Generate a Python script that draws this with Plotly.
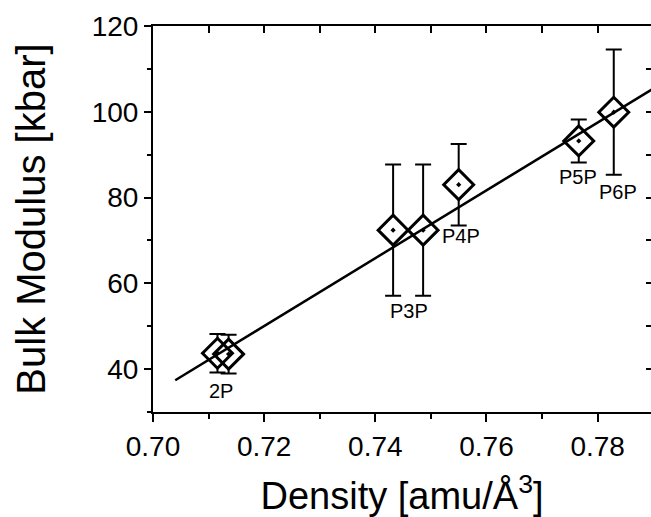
import plotly.graph_objects as go

# Data
density = [0.7116, 0.7136, 0.7432, 0.7486, 0.7550, 0.7766, 0.7829]
bulk_modulus = [43.7, 43.5, 72.4, 72.4, 83.0, 93.2, 99.9]
bulk_err = [4.5, 4.5, 15.3, 15.3, 9.5, 5.0, 14.6]

fit_density = [0.704, 0.790]
fit_bulk = [37.4, 105.4]

label_text = ["2P", "P3P", "P4P", "P5P", "P6P"]
label_x = [0.7123, 0.7461, 0.7554, 0.7765, 0.7837]
label_y = [34.9, 53.6, 71.1, 84.8, 81.2]

x_range = [0.70, 0.7896]
y_range = [30, 120]

FONT = "Liberation Sans, Arial, Helvetica, sans-serif"

fig = go.Figure()

# white-filled diamonds carrying the error bars (bars hidden inside symbols)
fig.add_trace(go.Scatter(
    x=density, y=bulk_modulus, mode="markers",
    marker=dict(symbol="diamond", size=23, color="white",
                line=dict(color="black", width=0)),
    error_y=dict(type="data", array=bulk_err, visible=True,
                 color="black", thickness=2, width=8),
    showlegend=False, hoverinfo="skip",
))
# open diamond outlines with centre dot
fig.add_trace(go.Scatter(
    x=density, y=bulk_modulus, mode="markers",
    marker=dict(symbol="diamond-open-dot", size=23, color="black",
                line=dict(color="black", width=3)),
    showlegend=False,
))
# linear fit
fig.add_trace(go.Scatter(
    x=fit_density, y=fit_bulk, mode="lines",
    line=dict(color="black", width=2.5),
    showlegend=False,
))
# dummy trace so the mirror axes are drawn
fig.add_trace(go.Scatter(x=[0.75], y=[75], xaxis="x2", yaxis="y2",
                         mode="markers", marker=dict(opacity=0),
                         showlegend=False, hoverinfo="skip"))

for t, xx, yy in zip(label_text, label_x, label_y):
    fig.add_annotation(x=xx, y=yy, text=t, showarrow=False,
                       font=dict(family=FONT, size=20, color="black"),
                       xanchor="center", yanchor="middle")

fig.update_layout(
    width=651, height=517,
    margin=dict(l=153, r=0, t=26, b=105),
    paper_bgcolor="white", plot_bgcolor="white",
    font=dict(family=FONT, color="black"),
    xaxis=dict(
        range=x_range, dtick=0.02, tick0=0.70, tickformat=".2f",
        ticks="outside", ticklen=8, tickwidth=2, tickcolor="black",
        showline=True, linewidth=2, linecolor="black", mirror=False,
        showgrid=False, zeroline=False,
        tickfont=dict(family=FONT, size=28, color="black"),
        minor=dict(dtick=0.01, tick0=0.70, ticks="outside", ticklen=5,
                   tickwidth=2, tickcolor="black", showgrid=False),
        title=dict(text="Density [amu/Å<sup>3</sup>]",
                   font=dict(family=FONT, size=38, color="black"),
                   standoff=22),
    ),
    xaxis2=dict(
        overlaying="x", side="top", range=x_range, dtick=0.01, tick0=0.70,
        ticks="inside", ticklen=7, tickwidth=2, tickcolor="black",
        showticklabels=False, showline=True, linewidth=2, linecolor="black",
        showgrid=False, zeroline=False,
    ),
    yaxis=dict(
        range=y_range, dtick=20, tick0=40,
        ticks="outside", ticklen=7, tickwidth=2, tickcolor="black",
        showline=True, linewidth=2, linecolor="black", mirror=False,
        showgrid=False, zeroline=False,
        tickfont=dict(family=FONT, size=28, color="black"),
        minor=dict(dtick=10, tick0=30, ticks="outside", ticklen=4,
                   tickwidth=2, tickcolor="black", showgrid=False),
        title=dict(text="Bulk Modulus [kbar]",
                   font=dict(family=FONT, size=40, color="black"),
                   standoff=34),
    ),
    yaxis2=dict(
        overlaying="y", side="right", range=y_range, dtick=10, tick0=30,
        ticks="inside", ticklen=5, tickwidth=2, tickcolor="black",
        showticklabels=False, showline=False,
        showgrid=False, zeroline=False,
    ),
)

fig.write_html(
    "out.html",
    config={"displayModeBar": False},
    post_script="document.body.style.margin='0px';document.body.style.overflow='hidden';",
)
